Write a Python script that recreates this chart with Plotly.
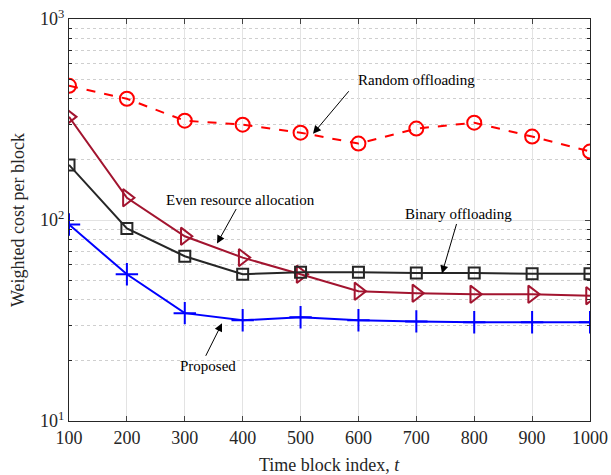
import plotly.graph_objects as go

t = [100, 200, 300, 400, 500, 600, 700, 800, 900, 1000]
random_off = [465, 401, 312, 298, 272, 240, 285, 305, 260, 219]
even_alloc = [326, 129, 83, 65, 53.7, 44.2, 43.2, 42.7, 42.7, 42]
binary_off = [188, 90.8, 66, 53.7, 55, 55, 54.5, 54.5, 54, 54]
proposed = [95, 53.7, 34.4, 31.7, 32.8, 31.7, 31.3, 31, 31, 31]

FONT = "Liberation Serif"
INK = "#262626"

fig = go.Figure()
fig.add_trace(go.Scatter(x=t, y=random_off, mode="lines+markers", name="Random offloading",
                         line=dict(color="#ff0000", width=2, dash="dash"),
                         marker=dict(symbol="circle-open", size=14, line=dict(width=2, color="#ff0000"))))
fig.add_trace(go.Scatter(x=t, y=even_alloc, mode="lines+markers", name="Even resource allocation",
                         line=dict(color="#a2142f", width=2),
                         marker=dict(symbol="triangle-right-open", size=15, line=dict(width=2, color="#a2142f"))))
fig.add_trace(go.Scatter(x=t, y=binary_off, mode="lines+markers", name="Binary offloading",
                         line=dict(color=INK, width=2),
                         marker=dict(symbol="square-open", size=11, line=dict(width=2, color=INK))))
fig.add_trace(go.Scatter(x=t, y=proposed, mode="lines+markers", name="Proposed",
                         line=dict(color="#0000ff", width=2),
                         marker=dict(symbol="cross-thin-open", size=16, line=dict(width=2, color="#0000ff"))))

minor_vals = [m * 10 ** e for e in (1, 2) for m in range(2, 10)]

fig.update_layout(
    width=611, height=475,
    margin=dict(l=69, r=21, t=19, b=54),
    paper_bgcolor="white", plot_bgcolor="white",
    showlegend=False,
    font=dict(family=FONT, size=18, color=INK),
    xaxis=dict(range=[100, 1000], tickvals=t, ticks="inside", ticklen=5, automargin=False,
               ticklabeloverflow="allow",
               showline=True, linecolor=INK, linewidth=1, mirror="ticks",
               showgrid=True, gridcolor="#e3e3e3", gridwidth=1, zeroline=False,
               tickfont=dict(family=FONT, size=18, color=INK)),
    yaxis=dict(type="log", range=[1, 3], tickvals=[10, 100, 1000],
               ticktext=["10<sup>1</sup>", "10<sup>2</sup>", "10<sup>3</sup>"],
               ticks="inside", ticklen=5, automargin=False, ticklabeloverflow="allow",
               showline=True, linecolor=INK, linewidth=1, mirror="ticks",
               showgrid=True, gridcolor="#e3e3e3", gridwidth=1, zeroline=False,
               minor=dict(tickvals=minor_vals, ticks="inside", ticklen=3, tickcolor=INK,
                          showgrid=True, gridcolor="#cfcfcf", griddash="dot", gridwidth=1),
               tickfont=dict(family=FONT, size=18, color=INK)),
)

fig.add_annotation(x=0.5, y=-0.1095, xref="paper", yref="paper", yanchor="middle",
                   text="Time block index, <i>t</i>", showarrow=False,
                   font=dict(family=FONT, size=18, color=INK))
fig.add_annotation(x=-0.098, y=0.5, xref="paper", yref="paper", xanchor="center", yanchor="middle",
                   text="Weighted cost per block", showarrow=False, textangle=-90,
                   font=dict(family=FONT, size=18, color=INK))

ann_font = dict(family=FONT, size=15, color="black")
labels = [
    ("Random offloading", 701, 2.697),
    ("Even resource allocation", 395.4, 2.102),
    ("Binary offloading", 772, 2.032),
    ("Proposed", 340.1, 1.273),
]
for txt, x, y in labels:
    fig.add_annotation(x=x, y=y, xref="x", yref="y", text=txt, showarrow=False, font=ann_font)

arrows = [
    (521.5, 2.429, 37, -44),
    (355.7, 1.883, 20, -36),
    (744.3, 1.734, 15, -51),
    (364.3, 1.486, -17, 34),
]
for x, y, ax, ay in arrows:
    fig.add_annotation(x=x, y=y, xref="x", yref="y", ax=ax, ay=ay, axref="pixel", ayref="pixel",
                       text="", showarrow=True, arrowhead=2, arrowsize=1.6, arrowwidth=1, arrowcolor="black")

fig.write_html("out.html", config={"displayModeBar": False},
               post_script="document.body.style.margin='0';")
